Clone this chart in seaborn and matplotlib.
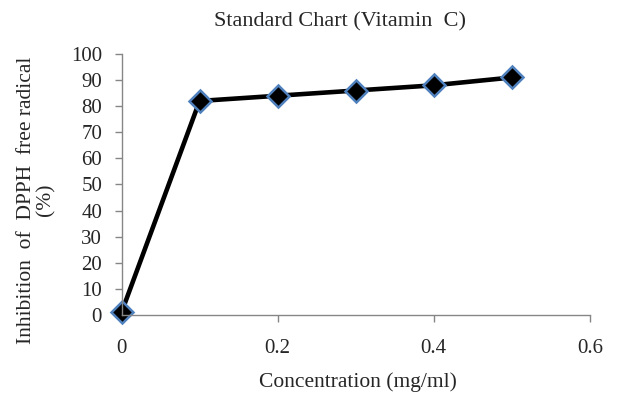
import matplotlib
matplotlib.use("Agg")
import matplotlib.pyplot as plt
import seaborn as sns
import pandas as pd

concentration = [0, 0.1, 0.2, 0.3, 0.4, 0.5]
inhibition = [1, 82, 84, 86, 88, 91]
x_ticks = [0, 0.2, 0.4, 0.6]
x_tick_labels = ["0", "0.2", "0.4", "0.6"]
y_ticks = [0, 10, 20, 30, 40, 50, 60, 70, 80, 90, 100]

sns.set_style("white")
plt.rcParams['font.family'] = ['Liberation Serif', 'DejaVu Serif']

df = pd.DataFrame({"conc": concentration, "inh": inhibition})

fig = plt.figure(figsize=(6.19, 3.94), dpi=100)
ax = fig.add_axes([0.1963, 0.2005, 0.7567, 0.6625])
sns.lineplot(data=df, x="conc", y="inh", ax=ax, color="black", linewidth=3.3,
             marker="D", markersize=11, markerfacecolor="black",
             markeredgecolor="#4F81BD", markeredgewidth=1.8, clip_on=False)

ax.set_xlim(0, 0.6)
ax.set_ylim(0, 100)
ax.set_xticks(x_ticks)
ax.set_xticklabels(x_tick_labels)
ax.set_yticks(y_ticks)
for s in ["top", "right"]:
    ax.spines[s].set_visible(False)
for s in ["left", "bottom"]:
    ax.spines[s].set_color("#868686")
    ax.spines[s].set_linewidth(1)
ax.tick_params(axis="both", which="major", length=5, width=1, color="#868686",
               labelsize=15, direction="out", bottom=True, left=True)
ax.tick_params(axis="x", pad=12)
ax.tick_params(axis="y", pad=9)

ax.set_xlabel("Concentration (mg/ml)", fontsize=15.5)
ax.xaxis.set_label_coords(0.505, -0.22)
ax.set_ylabel("Inhibition  of  DPPH  free radical\n(%)", fontsize=15.5, linespacing=0.95)
ax.yaxis.set_label_coords(-0.142, 0.44)
fig.text(0.549, 0.944, "Standard Chart (Vitamin  C)", fontsize=16,
         ha="center", va="center")

fig.savefig("out.png", dpi=100)
